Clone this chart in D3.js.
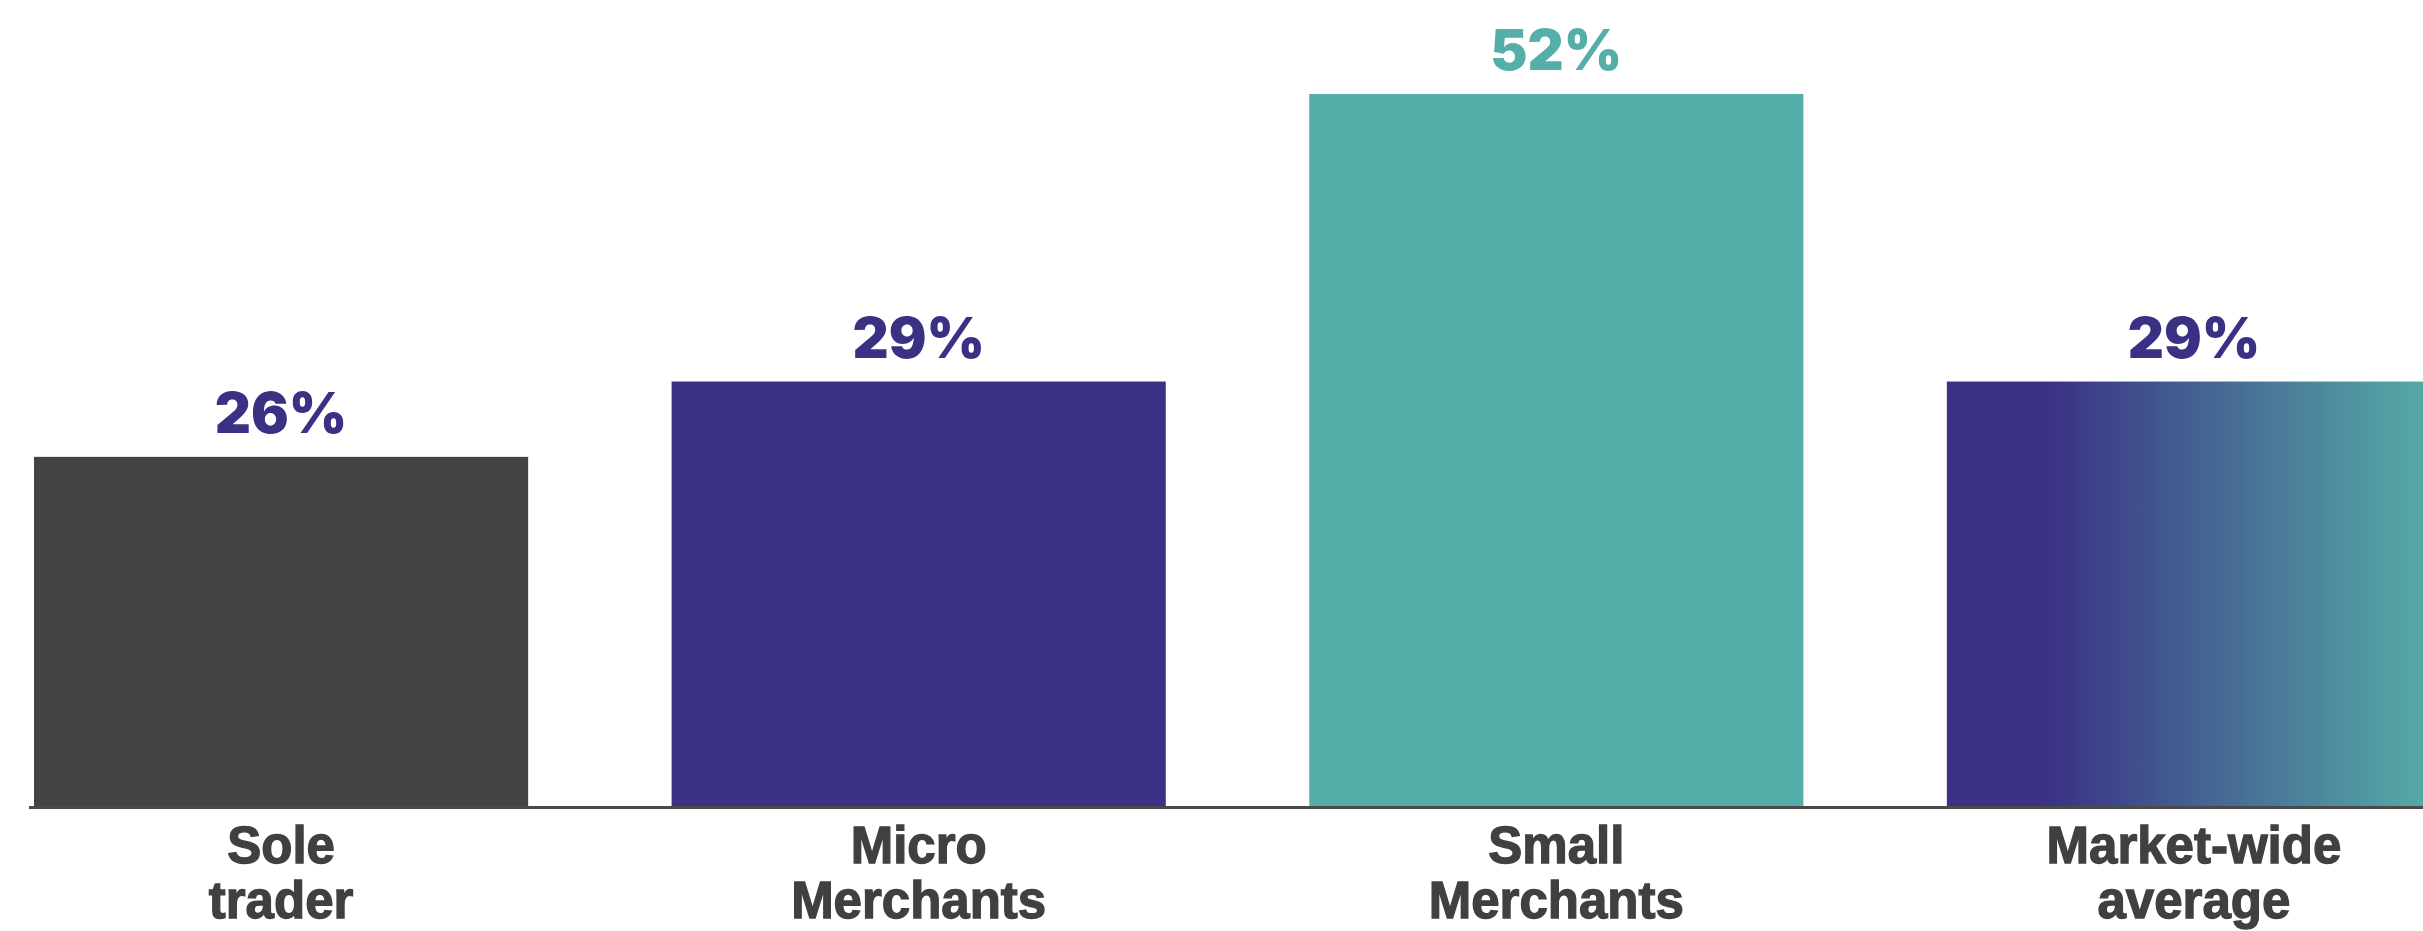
<!DOCTYPE html>
<html>
<head>
<meta charset="utf-8">
<script src="https://cdn.jsdelivr.net/npm/d3@7"></script>
<style>
  html, body { margin: 0; padding: 0; background: #fff; }
  svg { display: block; }
</style>
</head>
<body>
<svg id="chart"></svg>
<script>
// categories and their two-line axis labels
const categories = ['Sole trader', 'Micro Merchants', 'Small Merchants', 'Market-wide average'];
const categoryLines = [['Sole', 'trader'], ['Micro', 'Merchants'], ['Small', 'Merchants'], ['Market-wide', 'average']];

// bar heights as drawn in the picture (in %), and the labels printed above them
const barValues = [25.5, 31.0, 52, 31.0];
const valueLabels = ['26%', '29%', '52%', '29%'];

const width = 2423;
const height = 931;
const margin = { top: 94, left: 34, baseline: 806 };

const purple = '#3a3185';
const teal = '#55afa8';
const grey = '#434244';

const svg = d3.select('#chart').attr('width', width).attr('height', height);

const x = d3
  .scaleBand()
  .domain(categories)
  .range([margin.left, 2441])
  .paddingInner(0.225)
  .paddingOuter(0);

const y = d3
  .scaleLinear()
  .domain([0, d3.max(barValues)])
  .range([margin.baseline, margin.top]);

const fill = d3.scaleOrdinal().domain(categories).range([grey, purple, teal, 'url(#avgGrad)']);
const labelColor = d3.scaleOrdinal().domain(categories).range([purple, purple, teal, purple]);

// gradient for the market-wide bar
const grad = svg
  .append('defs')
  .append('linearGradient')
  .attr('id', 'avgGrad')
  .attr('x1', '0%')
  .attr('x2', '100%');
grad.append('stop').attr('offset', '0%').attr('stop-color', purple);
grad.append('stop').attr('offset', '20%').attr('stop-color', purple);
grad.append('stop').attr('offset', '100%').attr('stop-color', teal);

const data = categories.map((c, i) => ({
  name: c,
  value: barValues[i],
  label: valueLabels[i],
  lines: categoryLines[i],
}));

svg
  .append('g')
  .selectAll('rect')
  .data(data)
  .join('rect')
  .attr('x', (d) => x(d.name))
  .attr('y', (d) => y(d.value))
  .attr('width', x.bandwidth())
  .attr('height', (d) => y(0) - y(d.value))
  .attr('fill', (d) => fill(d.name));

// baseline
svg
  .append('line')
  .attr('x1', margin.left - 5)
  .attr('x2', width)
  .attr('y1', y(0) + 1.5)
  .attr('y2', y(0) + 1.5)
  .attr('stroke', '#4a4a4a')
  .attr('stroke-width', 3);

// value labels
svg
  .append('g')
  .selectAll('text')
  .data(data)
  .join('text')
  .attr('x', (d) => x(d.name) + x.bandwidth() / 2)
  .attr('y', (d) => y(d.value) - 24)
  .attr('text-anchor', 'middle')
  .attr('font-family', 'Inter, sans-serif')
  .attr('font-weight', 900)
  .attr('font-size', 56)
  .attr('fill', (d) => labelColor(d.name))
  .text((d) => d.label);

// category labels
const cat = svg
  .append('g')
  .selectAll('text')
  .data(data)
  .join('text')
  .attr('text-anchor', 'middle')
  .attr('font-family', '"Liberation Sans", Arial, sans-serif')
  .attr('font-weight', 700)
  .attr('font-size', 51)
  .attr('fill', '#404040')
  .attr('stroke', '#404040')
  .attr('stroke-width', 1.3);

cat
  .selectAll('tspan')
  .data((d) => d.lines.map((t) => ({ t, cx: x(d.name) + x.bandwidth() / 2 })))
  .join('tspan')
  .attr('x', (d) => d.cx)
  .attr('y', (d, i) => y(0) + 57 + i * 55)
  .text((d) => d.t);
</script>
</body>
</html>
